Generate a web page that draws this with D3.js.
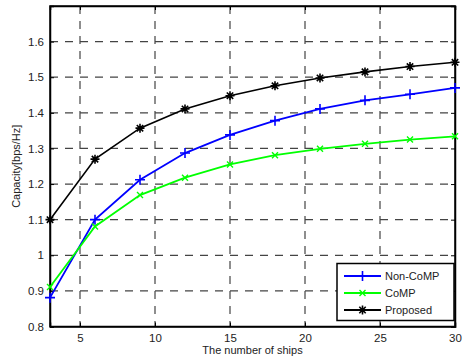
<!DOCTYPE html>
<html>
<head>
<meta charset="utf-8">
<script src="https://cdn.jsdelivr.net/npm/d3@7"></script>
<style>
  body { margin: 0; background: #fff; }
  svg { display: block; font-family: "Liberation Sans", Arial, sans-serif; }
</style>
</head>
<body>
<svg id="chart" width="466" height="362"></svg>
<script>
// ─── data ─────────────────────────────────────────────────────────
const ships    = [3, 6, 9, 12, 15, 18, 21, 24, 27, 30];
const nonComp  = [0.881, 1.100, 1.212, 1.287, 1.338, 1.378, 1.411, 1.435, 1.452, 1.470];
const comp     = [0.911, 1.081, 1.169, 1.218, 1.255, 1.281, 1.299, 1.313, 1.325, 1.334];
const proposed = [1.100, 1.270, 1.357, 1.411, 1.448, 1.476, 1.498, 1.515, 1.530, 1.542];
const xTicks   = [5, 10, 15, 20, 25, 30];
const yTicks   = [0.8, 0.9, 1, 1.1, 1.2, 1.3, 1.4, 1.5, 1.6];

const series = [
  { name: "Non-CoMP", values: nonComp,  color: "#0000ff", marker: "plus" },
  { name: "CoMP",     values: comp,     color: "#00ff00", marker: "cross" },
  { name: "Proposed", values: proposed, color: "#000000", marker: "star" }
];

// ─── layout ───────────────────────────────────────────────────────
const margin = { left: 50, right: 11, top: 6, bottom: 35.5 };
const width  = 466 - margin.left - margin.right;
const height = 362 - margin.top - margin.bottom;

const svg = d3.select("#chart");
const g = svg.append("g").attr("transform", `translate(${margin.left},${margin.top})`);

const x = d3.scaleLinear().domain([3, 30]).range([0, width]);
const y = d3.scaleLinear().domain([0.8, 1.7]).range([height, 0]);

// ─── grid ─────────────────────────────────────────────────────────
g.selectAll("line.gx").data(xTicks.filter(d => d < 30)).join("line")
  .attr("x1", d => x(d)).attr("x2", d => x(d))
  .attr("y1", 0).attr("y2", height)
  .attr("stroke", "#444").attr("stroke-width", 1.2)
  .attr("stroke-dasharray", "8,7");

g.selectAll("line.gy").data(yTicks.filter(d => d > 0.8)).join("line")
  .attr("x1", 0).attr("x2", width)
  .attr("y1", d => y(d)).attr("y2", d => y(d))
  .attr("stroke", "#444").attr("stroke-width", 1.2)
  .attr("stroke-dasharray", "8,7");

// ─── axes ─────────────────────────────────────────────────────────
const fmt = d => d3.format("")(+d.toFixed(1));

g.append("g").attr("transform", `translate(0,${height})`)
  .call(d3.axisBottom(x).tickValues(xTicks).tickSize(-4).tickPadding(7));
g.append("g")
  .call(d3.axisLeft(y).tickValues(yTicks).tickSize(-4).tickPadding(6).tickFormat(fmt));
g.append("g").call(d3.axisTop(x).tickValues(xTicks).tickSize(-4).tickFormat(""));
g.append("g").attr("transform", `translate(${width},0)`)
  .call(d3.axisRight(y).tickValues(yTicks).tickSize(-4).tickFormat(""));

g.selectAll(".domain").attr("stroke", "#000").attr("stroke-width", 1.5);
g.selectAll(".tick line").attr("stroke", "#000");
g.selectAll(".tick text").attr("fill", "#222").style("font-size", "11.5px");

// box
g.append("rect").attr("width", width).attr("height", height)
  .attr("fill", "none").attr("stroke", "#000").attr("stroke-width", 1.5);

// labels
svg.append("text")
  .attr("x", margin.left + width / 2).attr("y", 354)
  .attr("text-anchor", "middle").style("font-size", "11px").attr("fill", "#222")
  .text("The number of ships");
svg.append("text")
  .attr("transform", `translate(20,${margin.top + height / 2}) rotate(-90)`)
  .attr("text-anchor", "middle").style("font-size", "11px").attr("fill", "#222")
  .text("Capacity[bps/Hz]");

// ─── markers ──────────────────────────────────────────────────────
const drawMarker = (sel, type, color) => {
  if (type === "plus") {
    sel.append("path").attr("d", "M-5,0H5M0,-5V5")
      .attr("stroke", color).attr("stroke-width", 1.6).attr("fill", "none");
  } else if (type === "cross") {
    sel.append("path").attr("d", "M-3,-3L3,3M-3,3L3,-3")
      .attr("stroke", color).attr("stroke-width", 1.4).attr("fill", "none");
  } else {
    sel.append("path").attr("d", "M-4.5,0H4.5M0,-4.5V4.5M-3.2,-3.2L3.2,3.2M-3.2,3.2L3.2,-3.2")
      .attr("stroke", color).attr("stroke-width", 1.6).attr("fill", "none");
    sel.append("circle").attr("r", 2.2).attr("fill", color);
  }
};

// ─── lines ────────────────────────────────────────────────────────
const line = d3.line().x((d, i) => x(ships[i])).y(d => y(d));

series.forEach(s => {
  g.append("path").datum(s.values)
    .attr("d", line).attr("fill", "none")
    .attr("stroke", s.color).attr("stroke-width", s.marker === "star" ? 1.6 : 1.8);
  s.values.forEach((v, i) => {
    const m = g.append("g").attr("transform", `translate(${x(ships[i])},${y(v)})`);
    drawMarker(m, s.marker, s.color);
  });
});

// ─── legend ───────────────────────────────────────────────────────
const lg = svg.append("g").attr("transform", "translate(337,263.5)");
lg.append("rect").attr("width", 117).attr("height", 57)
  .attr("fill", "#fff").attr("stroke", "#000").attr("stroke-width", 1.5);
series.forEach((s, i) => {
  const yy = 12.5 + i * 17;
  lg.append("line").attr("x1", 7).attr("x2", 44).attr("y1", yy).attr("y2", yy)
    .attr("stroke", s.color).attr("stroke-width", 1.8);
  drawMarker(lg.append("g").attr("transform", `translate(25.5,${yy})`), s.marker, s.color);
  lg.append("text").attr("x", 48).attr("y", yy).attr("dy", "0.35em")
    .style("font-size", "11px").attr("fill", "#222").text(s.name);
});
</script>
</body>
</html>
